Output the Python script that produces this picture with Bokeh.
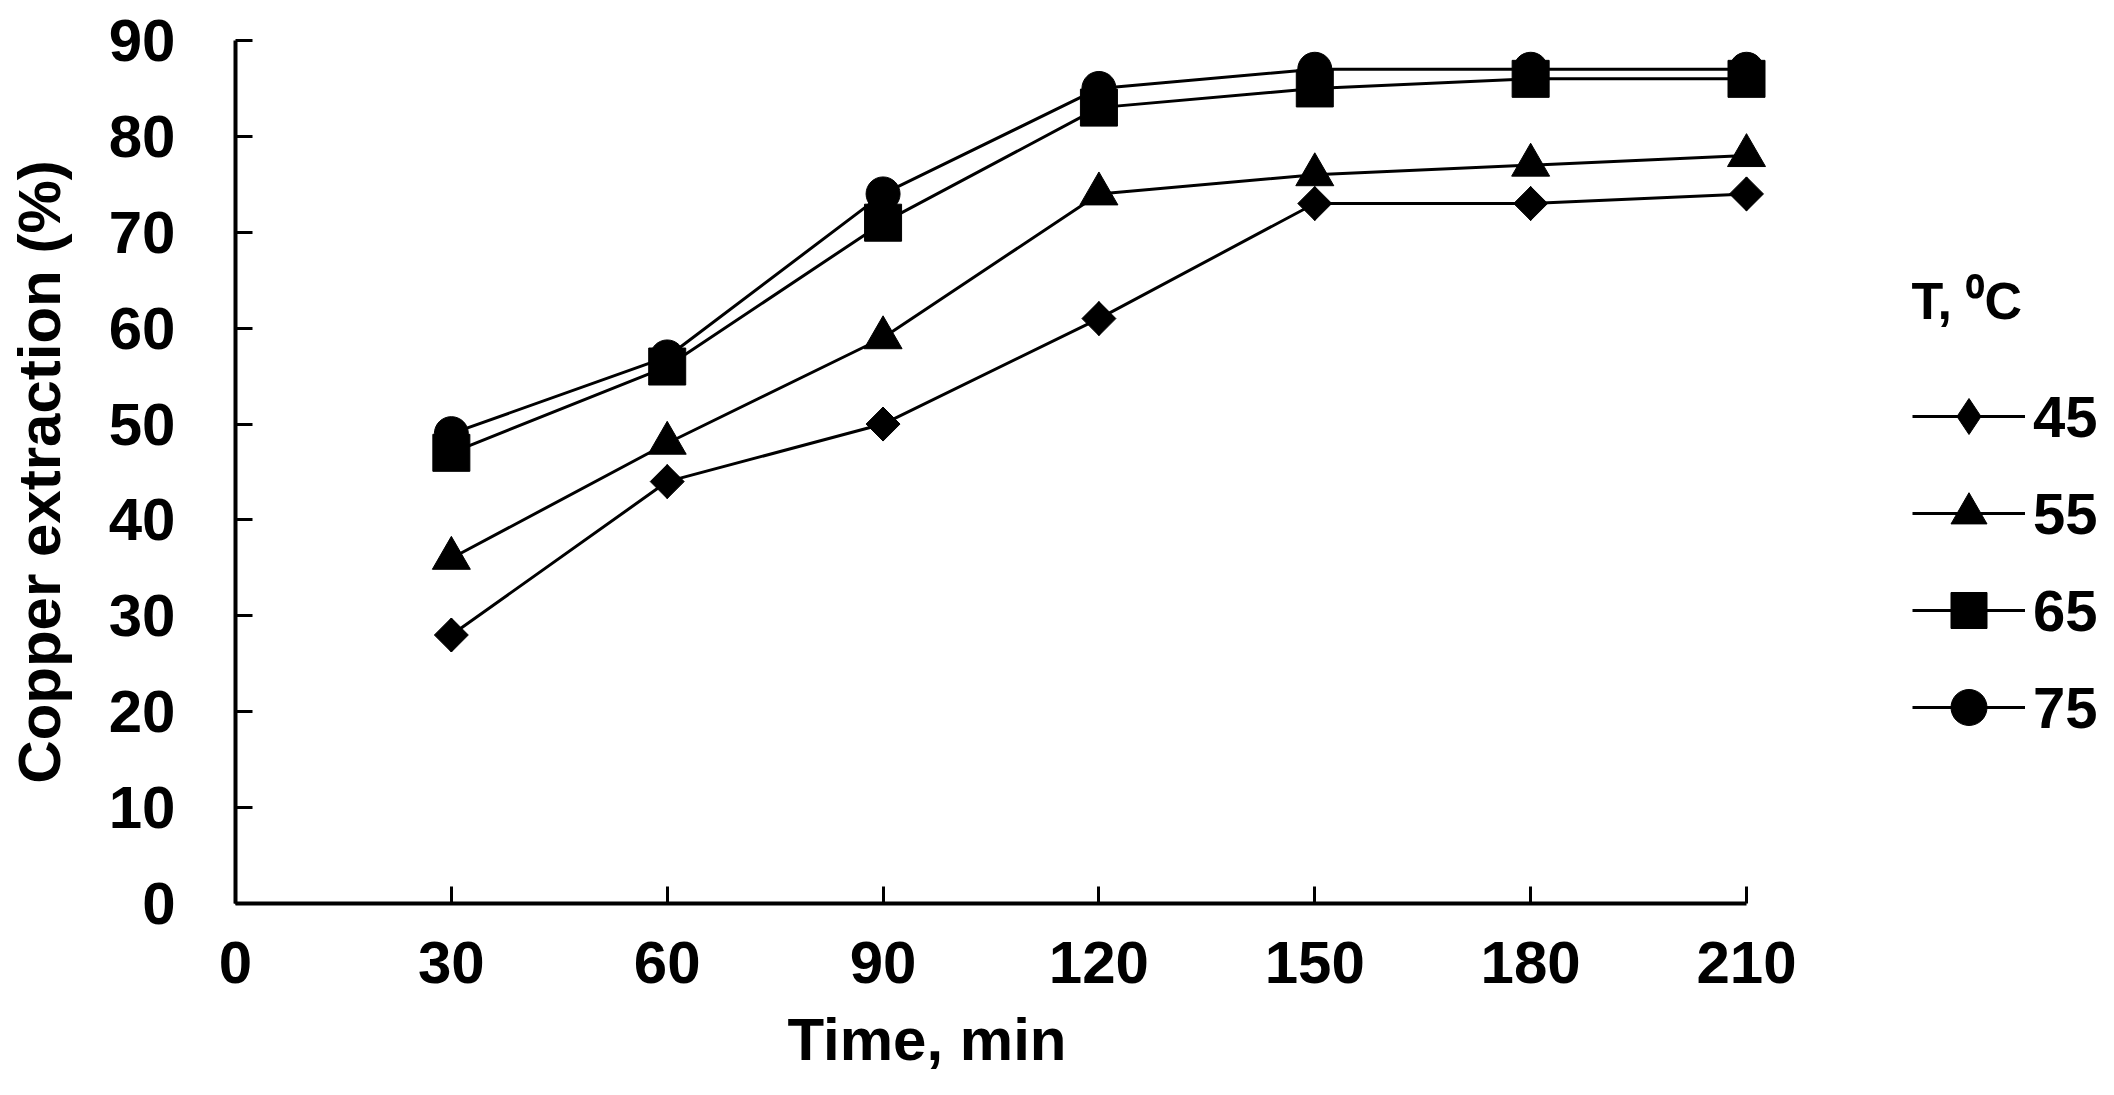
import numpy as np
from bokeh.plotting import figure
from bokeh.models import Range1d, FixedTicker, Legend, LegendItem, Label, Title
from bokeh.embed import file_html
from bokeh.resources import INLINE

# ---- data ----
time_min = [30, 60, 90, 120, 150, 180, 210]
cu_45 = [28, 44, 50, 61, 73, 73, 74]
cu_55 = [36, 48, 59, 74, 76, 77, 78]
cu_65 = [47, 56, 71, 83, 85, 86, 86]
cu_75 = [49, 57, 74, 85, 87, 87, 87]
temp_labels = ["45", "55", "65", "75"]
x_ticks = [0, 30, 60, 90, 120, 150, 180, 210]
y_ticks = [0, 10, 20, 30, 40, 50, 60, 70, 80, 90]

FONT = "Liberation Sans"

# ---- layout (pixels) ----
W, H = 2114, 1095
F_LEFT, F_TOP, F_BOTTOM = 235, 40, 903      # plot frame edges
AX_RIGHT = 1746                              # pixel of x = 210
x_end = 210 * (W - F_LEFT) / (AX_RIGHT - F_LEFT)   # frame extends to the right edge (room for legend)

p = figure(width=W, height=H,
           x_range=Range1d(0, x_end), y_range=Range1d(0, 90),
           output_backend="svg", toolbar_location=None,
           min_border_left=F_LEFT, min_border_right=0,
           min_border_top=F_TOP, min_border_bottom=H - F_BOTTOM,
           background_fill_color="white", border_fill_color="white")
p.xgrid.visible = False
p.ygrid.visible = False
p.outline_line_color = None

for ax in (p.xaxis[0], p.yaxis[0]):
    ax.axis_line_width = 4
    ax.axis_line_color = "black"
    ax.major_tick_in = 17
    ax.major_tick_out = 0
    ax.major_tick_line_width = 3
    ax.major_tick_line_color = "black"
    ax.minor_tick_in = 0
    ax.minor_tick_out = 0
    ax.major_label_text_font = FONT
    ax.major_label_text_font_size = "60px"
    ax.major_label_text_font_style = "bold"
    ax.major_label_text_color = "black"

p.xaxis.bounds = (0, 210)
p.xaxis.ticker = FixedTicker(ticks=x_ticks)
p.yaxis.ticker = FixedTicker(ticks=y_ticks)
p.xaxis.major_label_standoff = 38
p.yaxis.major_label_standoff = 60

p.yaxis.axis_label = "Copper extraction (%)"
p.yaxis.axis_label_standoff = 33
p.yaxis.axis_label_text_font = FONT
p.yaxis.axis_label_text_font_size = "60px"
p.yaxis.axis_label_text_font_style = "bold"
p.yaxis.axis_label_text_color = "black"

# x-axis title, placed below the axis, shifted like the reference
xtitle = Title(text="Time, min", align="left", offset=552, standoff=37,
               text_font=FONT, text_font_size="60px", text_font_style="bold",
               text_color="black")
p.add_layout(xtitle, "below")

series = [
    (cu_45, "square", np.pi / 4, 24),
    (cu_55, "triangle", 0.0, 38),
    (cu_65, "square", 0.0, 37),
    (cu_75, "circle", 0.0, 34),
]

items = []
for (vals, marker, ang, size), lab in zip(series, temp_labels):
    lr = p.line(time_min, vals, line_color="black", line_width=3)
    if marker == "square" and ang != 0.0:
        # diamond shape used for the legend sample (hidden under the markers)
        leg_r = p.scatter(time_min, vals, marker="diamond", size=34,
                          fill_color="black", line_color="black")
    sr = p.scatter(time_min, vals, marker=marker, angle=ang, size=size,
                   fill_color="black", line_color="black")
    if marker == "square" and ang != 0.0:
        items.append(LegendItem(label=lab, renderers=[lr, leg_r]))
    else:
        items.append(LegendItem(label=lab, renderers=[lr, sr]))

legend = Legend(items=items, location=(1677, 151),
                glyph_width=113, glyph_height=90, spacing=7,
                label_standoff=8, padding=0, margin=0,
                border_line_color=None, background_fill_alpha=0,
                label_text_font=FONT, label_text_font_size="58px",
                label_text_font_style="bold", label_text_color="black",
                label_text_baseline="middle")
p.add_layout(legend)

title_lbl = Label(x=1676, y=603, x_units="screen", y_units="screen",
                  text="T, \u2070C", text_font=FONT, text_font_size="52px",
                  text_font_style="bold", text_color="black",
                  text_baseline="alphabetic", text_align="left")
p.add_layout(title_lbl)

open("out.html", "w").write(file_html(p, INLINE))
